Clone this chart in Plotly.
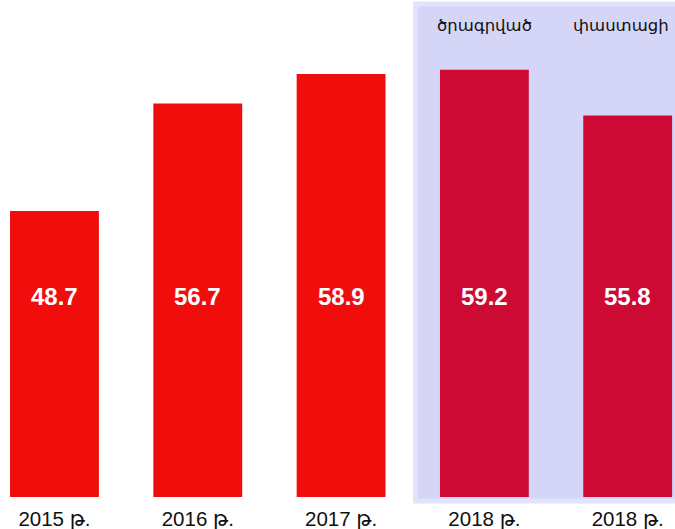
import plotly.graph_objects as go

categories = ["2015 թ.", "2016 թ.", "2017 թ.", "2018 թ.", "2018 թ."]
values = [48.7, 56.7, 58.9, 59.2, 55.8]
group_labels = ["ծրագրված", "փաստացի"]

colors = ["#f20d0d", "#f20d0d", "#f20d0d", "#cc0a33", "#cc0a33"]
xs = list(range(len(values)))

fig = go.Figure()
fig.add_trace(go.Bar(
    x=xs, y=values, width=0.62,
    marker=dict(color=colors, line=dict(width=0)),
    hoverinfo="skip", showlegend=False,
))

# value labels inside bars
for xi, v in zip(xs, values):
    fig.add_annotation(x=xi, y=42.3, xref="x", yref="y", text=f"<b>{v}</b>",
                       showarrow=False,
                       font=dict(family="Liberation Sans, Arial, sans-serif", size=24, color="white"))

# highlight region for 2018
fig.add_shape(type="rect", xref="x", yref="paper", x0=2.52, x1=4.6, y0=-0.008, y1=0.992,
              fillcolor="rgba(213,213,248,1)", line=dict(color="rgba(226,226,251,1)", width=5),
              layer="below")

fig.add_annotation(x=3, y=0.972, xref="x", yref="paper", text=group_labels[0], showarrow=False,
                   font=dict(family="DejaVu Sans, Noto Sans, sans-serif", size=16.5, color="#111"))
fig.add_annotation(x=3.95, y=0.972, xref="x", yref="paper", text=group_labels[1], showarrow=False,
                   font=dict(family="DejaVu Sans, Noto Sans, sans-serif", size=16.5, color="#111"))

fig.update_layout(
    width=675, height=529,
    margin=dict(l=0, r=0, t=0, b=32),
    paper_bgcolor="white", plot_bgcolor="rgba(0,0,0,0)",
    xaxis=dict(tickvals=xs, ticktext=categories, range=[-0.38, 4.33],
               showgrid=False, zeroline=False, showline=False, ticks="",
               ticklabelstandoff=7,
               tickfont=dict(family="Liberation Sans, DejaVu Sans, sans-serif", size=20.5, color="#111")),
    yaxis=dict(range=[27.4, 64.4], visible=False, showgrid=False, zeroline=False),
)

fig.write_html("out.html", config={"displayModeBar": False},
               post_script="document.body.style.margin='0';document.body.style.overflow='hidden';")
